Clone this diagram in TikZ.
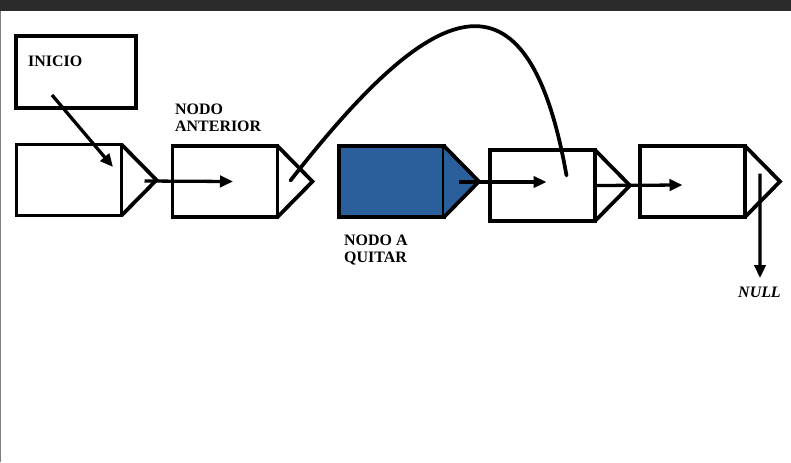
\documentclass[tikz,border=0pt]{standalone}
\usepackage{fontspec}
\setmainfont{Liberation Serif}
\usetikzlibrary{arrows.meta, calc}

\definecolor{quitar}{RGB}{42,95,155}
\definecolor{barra}{RGB}{43,43,43}

\begin{document}
\begin{tikzpicture}[
  x=0.03cm, y=-0.03cm,
  cell/.style   = {draw, line width=3.2pt, minimum width=3.15cm, minimum height=2.13cm,
                   outer sep=0pt, inner sep=0pt},
  label/.style  = {font=\bfseries\fontsize{13.6}{14.5}\selectfont, align=left,
                   inner sep=0pt, anchor=north west},
  edge/.style   = {line width=3.2pt, line join=miter},
  arrow/.style  = {line width=2.8pt, -{Triangle[length=3.9mm, width=3.4mm]}},
]
\useasboundingbox (0,0) rectangle (791,462);
% page frame of the screenshot
\fill[barra] (0,0) rectangle (791,11);
\draw[gray, line width=1.2pt] (0.5,11) -- (0.5,462);

%--------------------------------------------------
% Head pointer
%--------------------------------------------------
\node[cell, minimum width=3.6cm, minimum height=2.16cm] (inicio) at (76,72) {};
\node[label] (t_inicio) at (28,56) {INICIO};

%--------------------------------------------------
% List cells
%--------------------------------------------------
\node[cell] (n1) at (69,180) {};
\node[cell] (n2) at (225,181.5) {};
\node[cell, fill=quitar] (n3) at (391.5,181.5) {};
\node[cell] (n4) at (542.5,185.5) {};
\node[cell] (n5) at (692.5,181.5) {};

% pointer parts (triangles)
\foreach \n in {n1,n2,n4,n5}
  \draw[edge] (\n.north east) -- ($(\n.east)+(35,0)$) -- (\n.south east);
\filldraw[edge, fill=quitar] (n3.north east) -- ($(n3.east)+(35,0)$) -- (n3.south east);

%--------------------------------------------------
% Labels
%--------------------------------------------------
\node[label] (t_anterior) at (175,104) {NODO\\ANTERIOR};
\node[label] (t_quitar) at (344,235) {NODO A\\QUITAR};
\node[label, font=\bfseries\itshape\fontsize{13.6}{14.5}\selectfont] (t_null) at (738,286.5) {NULL};
\coordinate (null) at (760,278);

%--------------------------------------------------
% Connections
%--------------------------------------------------
\draw[arrow] ($(inicio.center)+(-24,23)$) -- ($(n1.center)+(44,-13)$);
\draw[arrow] ($(n1.east)+(23,1)$) -- ($(n2.center)+(8,0)$);
\draw[arrow] ($(n3.east)+(15,0.5)$) -- ($(n4.center)+(4,-3.5)$);
\draw[arrow] (n4.east) -- ($(n5.center)+(-10,3.5)$);
\draw[arrow] ($(n5.east)+(15,-8)$) -- (null);

% bypass link: anterior -> siguiente
\draw[edge, line cap=round]
  ($(n2.east)+(13,-1)$) .. controls (420,15) and (525,-60) .. ($(n4.center)+(24,-10)$);

\end{tikzpicture}
\end{document}
